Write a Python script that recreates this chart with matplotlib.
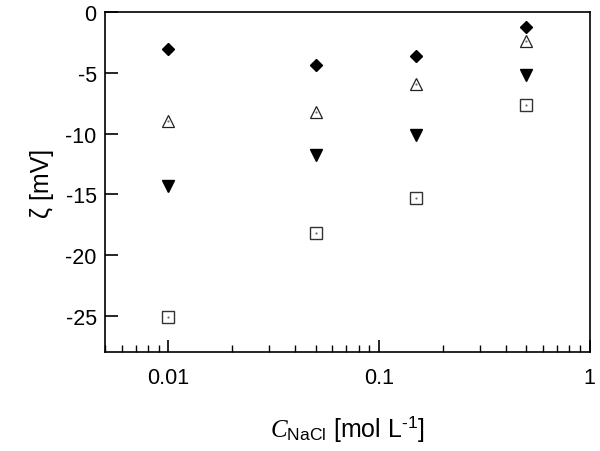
import numpy as np
import matplotlib
matplotlib.use("Agg")
import matplotlib.pyplot as plt
from matplotlib.ticker import LogLocator, NullFormatter

plt.rcParams['font.family'] = ['Liberation Sans', 'DejaVu Sans']
plt.rcParams['mathtext.fontset'] = 'custom'
plt.rcParams['mathtext.rm'] = 'Liberation Sans'
plt.rcParams['mathtext.it'] = 'Liberation Serif:italic'
plt.rcParams['axes.unicode_minus'] = False

# NaCl concentration [mol/L]
conc = [0.01, 0.05, 0.15, 0.5]

# zeta potential [mV] for each series
zeta_diamond = [-3.05, -4.35, -3.6, -1.25]
zeta_tri_open = [-9.0, -8.25, -5.9, -2.4]
zeta_tri_down = [-14.3, -11.8, -10.1, -5.2]
zeta_square = [-25.1, -18.2, -15.3, -7.65]

fig, ax = plt.subplots(figsize=(6.0, 4.52), dpi=100)
fig.subplots_adjust(left=0.175, right=0.983, top=0.971, bottom=0.219)

ax.plot(conc, zeta_diamond, 'D', color='black', markersize=6.5, linestyle='none')
ax.plot(conc, zeta_tri_open, '^', mfc='white', mec='#222222', mew=0.9, markersize=8.5, linestyle='none')
ax.plot(conc, zeta_tri_down, 'v', color='black', markersize=8, linestyle='none')
ax.plot(conc, zeta_square, 's', mfc='white', mec='#333333', mew=1.0, markersize=9, linestyle='none')
# tiny centre dots in open markers
ax.plot(conc, zeta_tri_open, '.', color='#555555', markersize=1, linestyle='none')
ax.plot(conc, zeta_square, '.', color='#555555', markersize=1, linestyle='none')

ax.set_xscale('log')
ax.set_xlim(0.005, 1)
ax.set_ylim(-28, 0)
ax.set_xticks([0.01, 0.1, 1])
ax.set_xticklabels(['0.01', '0.1', '1'])
ax.xaxis.set_minor_locator(LogLocator(base=10, subs=np.arange(2, 10)))
ax.xaxis.set_minor_formatter(NullFormatter())
ax.set_yticks([0, -5, -10, -15, -20, -25])
ax.set_yticklabels(['0', '-5', '-10', '-15', '-20', '-25'])

ax.tick_params(which='major', direction='in', length=9, width=1.2, labelsize=15.5, pad=6)
ax.tick_params(which='minor', direction='in', length=5, width=1.0)
ax.tick_params(axis='x', pad=11)
for s in ax.spines.values():
    s.set_linewidth(1.2)

ax.set_ylabel('ζ [mV]', fontsize=18, labelpad=8)
ax.set_xlabel(r'$\mathit{C}_{\mathrm{NaCl}}$ [mol L$^{\text{-1}}$]', fontsize=18, labelpad=18)

plt.savefig('out.png', dpi=100)
